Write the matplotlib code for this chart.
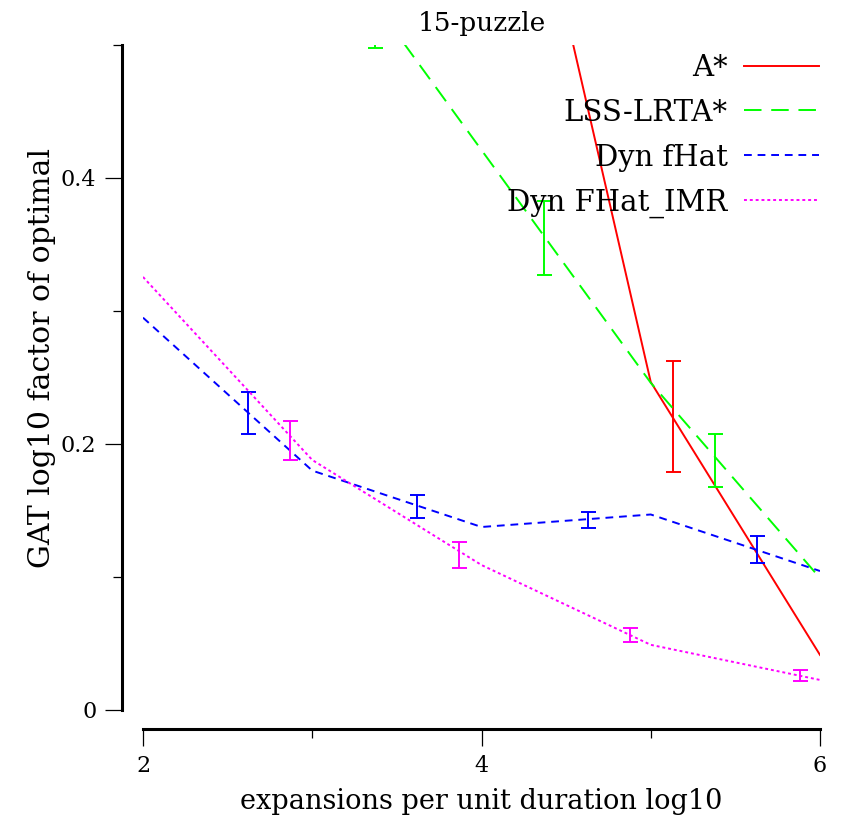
import numpy as np
import matplotlib
matplotlib.use("Agg")
import matplotlib.pyplot as plt
from matplotlib.ticker import MultipleLocator

plt.rcParams["font.family"] = "DejaVu Serif"

# line vertices (log10 expansions per unit duration)
x_pts = [2, 3, 4, 5, 6]
astar_x = [4, 5, 6]
astar_y = [0.800, 0.2466, 0.0414]
lss_x = [3, 4, 5, 6]
lss_y = [0.596, 0.421, 0.246, 0.0992]
fhat_y = [0.295, 0.180, 0.1376, 0.147, 0.1045]
imr_y = [0.3256, 0.188, 0.109, 0.049, 0.0226]

# error bars: x position, lower, upper
astar_err_x = [5.13]
astar_err_lo = [0.179]
astar_err_hi = [0.2624]
lss_err_x = [3.37, 4.37, 5.38]
lss_err_lo = [0.498, 0.327, 0.1677]
lss_err_hi = [0.564, 0.383, 0.2075]
fhat_err_x = [2.62, 3.62, 4.63, 5.63]
fhat_err_lo = [0.2075, 0.1444, 0.137, 0.1105]
fhat_err_hi = [0.239, 0.1617, 0.149, 0.131]
imr_err_x = [2.87, 3.87, 4.88, 5.88]
imr_err_lo = [0.188, 0.1068, 0.0511, 0.0218]
imr_err_hi = [0.2173, 0.1263, 0.0617, 0.030]

fig = plt.figure(figsize=(8.46, 8.19), dpi=100)
ax = fig.add_axes([143/846, 109/819, 677/846, 665/819])

lw = 1.4
series = [
    ("A*", astar_x, astar_y, "#ff0000", "-", astar_err_x, astar_err_lo, astar_err_hi),
    ("LSS-LRTA*", lss_x, lss_y, "#00ff00", (0, (9, 5)), lss_err_x, lss_err_lo, lss_err_hi),
    ("Dyn fHat", x_pts, fhat_y, "#0000ff", (0, (4, 3)), fhat_err_x, fhat_err_lo, fhat_err_hi),
    ("Dyn FHat_IMR", x_pts, imr_y, "#ff00ff", (0, (1.5, 1.5)), imr_err_x, imr_err_lo, imr_err_hi),
]

for name, xs, ys, col, ls, ex, elo, ehi in series:
    ax.plot(xs, ys, color=col, linestyle=ls, linewidth=lw, label=name)
    lo = np.array(elo)
    hi = np.array(ehi)
    mid = (lo + hi) / 2
    ax.errorbar(ex, mid, yerr=(hi - lo) / 2, fmt="none", ecolor=col,
                elinewidth=lw, capsize=5.4, capthick=lw)

ax.set_xlim(2, 6)
ax.set_ylim(0, 0.5)

ax.spines["top"].set_visible(False)
ax.spines["right"].set_visible(False)
ax.spines["left"].set_position(("outward", 15))
ax.spines["bottom"].set_position(("outward", 14))
ax.spines["left"].set_linewidth(2.2)
ax.spines["bottom"].set_linewidth(2.2)

ax.xaxis.set_major_locator(MultipleLocator(2))
ax.xaxis.set_minor_locator(MultipleLocator(1))
ax.yaxis.set_major_locator(MultipleLocator(0.2))
ax.yaxis.set_minor_locator(MultipleLocator(0.1))
ax.tick_params(which="major", length=12.5, width=0.9, labelsize=16, pad=6)
ax.tick_params(which="minor", length=6.5, width=0.9)
ax.xaxis.set_major_formatter(plt.FuncFormatter(lambda v, p: "%g" % v))
ax.yaxis.set_major_formatter(plt.FuncFormatter(lambda v, p: "%g" % v))

ax.set_title("15-puzzle", fontsize=19, pad=10)
ax.set_xlabel("expansions per unit duration log10", fontsize=19.5, labelpad=8)
ax.set_ylabel("GAT log10 factor of optimal", fontsize=21.5)
ax.yaxis.set_label_coords(-0.128, 0.53)

ax.legend(loc="upper right", bbox_to_anchor=(1.012, 1.0), frameon=False,
          markerfirst=False, fontsize=21, handlelength=2.6, handletextpad=0.55,
          labelspacing=0.58, borderpad=0.3, borderaxespad=0)

fig.savefig("out.png", dpi=100)
